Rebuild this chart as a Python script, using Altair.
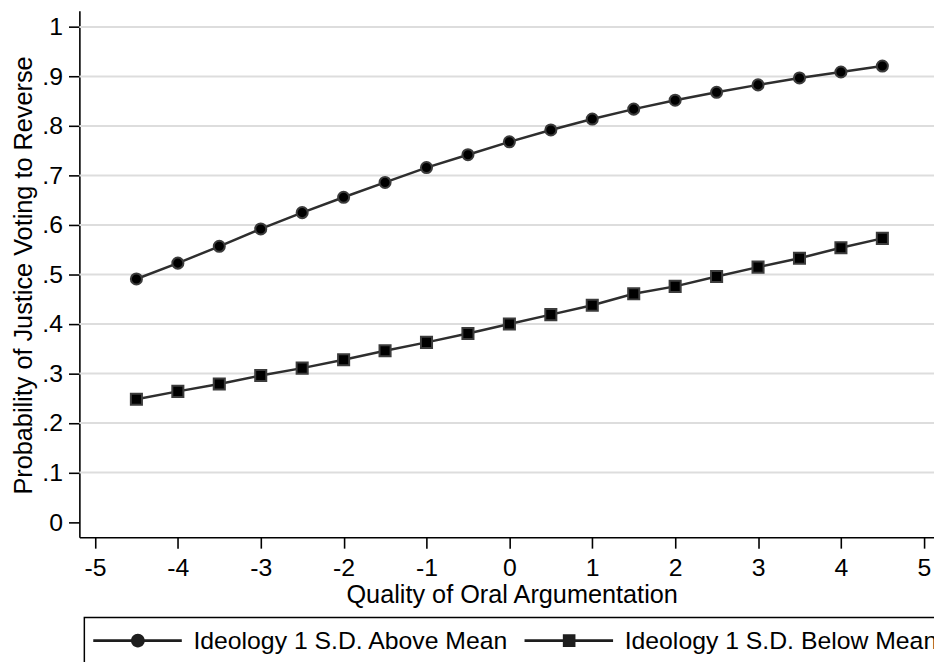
import json
import altair as alt
import pandas as pd

# ---------------- data ----------------
quality = [-4.5, -4.0, -3.5, -3.0, -2.5, -2.0, -1.5, -1.0, -0.5, 0.0,
           0.5, 1.0, 1.5, 2.0, 2.5, 3.0, 3.5, 4.0, 4.5]
prob_above = [0.491, 0.523, 0.557, 0.592, 0.625, 0.656, 0.686, 0.716, 0.742, 0.768,
              0.792, 0.814, 0.834, 0.852, 0.868, 0.883, 0.897, 0.909, 0.921]
prob_below = [0.248, 0.264, 0.279, 0.296, 0.311, 0.328, 0.346, 0.363, 0.381, 0.400,
              0.419, 0.438, 0.461, 0.476, 0.496, 0.515, 0.533, 0.554, 0.573]
series_names = ["Ideology 1 S.D. Above Mean", "Ideology 1 S.D. Below Mean"]

x_tick_values = [-5, -4, -3, -2, -1, 0, 1, 2, 3, 4, 5]
x_tick_labels = ["-5", "-4", "-3", "-2", "-1", "0", "1", "2", "3", "4", "5"]
y_tick_values = [0, 0.1, 0.2, 0.3, 0.4, 0.5, 0.6, 0.7, 0.8, 0.9, 1.0]
y_tick_labels = ["0", ".1", ".2", ".3", ".4", ".5", ".6", ".7", ".8", ".9", "1"]
y_grid_values = [0.1, 0.2, 0.3, 0.4, 0.5, 0.6, 0.7, 0.8, 0.9, 1.0]

x_title = "Quality of Oral Argumentation"
y_title = "Probability of Justice Voting to Reverse"

# ---------------- tables ----------------
df = pd.DataFrame({
    "quality": quality + quality,
    "prob": prob_above + prob_below,
    "series": [series_names[0]] * len(quality) + [series_names[1]] * len(quality),
})
grid_df = pd.DataFrame({"prob": y_grid_values})

FONT = "Liberation Sans"

x_scale = alt.Scale(domain=[-5.188, 5.123], nice=False, zero=False)
y_scale = alt.Scale(domain=[-0.0306, 1.0326], nice=False, zero=False)

x_axis = alt.Axis(
    values=x_tick_values,
    labelExpr=f"{json.dumps(x_tick_labels)}[round(datum.value + 5)]",
    title=x_title, grid=False, tickSize=11, labelPadding=8,
    labelOverlap=False, labelFlush=False,
    titleX=436, titleY=66, titleAlign="center", titleBaseline="alphabetic",
)
y_axis = alt.Axis(
    values=y_tick_values,
    labelExpr=f"{json.dumps(y_tick_labels)}[round(datum.value * 10)]",
    title=y_title, grid=False, tickSize=11, labelPadding=6,
    labelOverlap=False, labelFlush=False,
    titleX=-48.3, titleY=266.5, titleAngle=270, titleAlign="center",
    titleBaseline="alphabetic",
)


# legend symbols: line with marker in the middle (path units of 12 px)
def circle_path(cx, r):
    k = 0.5523 * r
    return (f"M{cx + r},0 C{cx + r},{k} {cx + k},{r} {cx},{r} "
            f"C{cx - k},{r} {cx - r},{k} {cx - r},0 "
            f"C{cx - r},{-k} {cx - k},{-r} {cx},{-r} "
            f"C{cx + k},{-r} {cx + r},{-k} {cx + r},0 Z ")


def bar_path(x1, x2, h):
    return f"M{x1},{-h} H{x2} V{h} H{x1} Z "


LX1, LX2, MC, LH = -1.167, 6.275, 2.583, 0.11
RC, RS = 0.58, 0.53
path_above = (bar_path(LX1, MC - RC + 0.05, LH) + circle_path(MC, RC)
              + bar_path(MC + RC - 0.05, LX2, LH))
path_below = (bar_path(LX1, MC - RS, LH)
              + f"M{MC - RS},{-RS} H{MC + RS} V{RS} H{MC - RS} Z "
              + bar_path(MC + RS, LX2, LH))

grid = alt.Chart(grid_df).mark_rule(color="#dddddd", strokeWidth=2).encode(
    y=alt.Y("prob:Q", scale=y_scale, axis=y_axis)
)

lines = alt.Chart(df).mark_line(color="#2e2e2e", strokeWidth=2.5).encode(
    x=alt.X("quality:Q", scale=x_scale, axis=x_axis),
    y=alt.Y("prob:Q", scale=y_scale, axis=y_axis),
    detail="series:N",
)

points = alt.Chart(df).mark_point(
    filled=True, fill="black", stroke="#3c3c3c", strokeWidth=2, size=125, opacity=1
).encode(
    x=alt.X("quality:Q", scale=x_scale, axis=x_axis),
    y=alt.Y("prob:Q", scale=y_scale, axis=y_axis),
    shape=alt.Shape("series:N", scale=alt.Scale(domain=series_names,
                                                range=["circle", "square"]),
                    legend=None),
)

legend_layer = alt.Chart(df).transform_filter("datum.prob > 5").mark_point(
    filled=True, fill="#1e1e1e", opacity=1
).encode(
    shape=alt.Shape(
        "series:N",
        scale=alt.Scale(domain=series_names, range=[path_above, path_below]),
        legend=alt.Legend(
            title=None, orient="none", legendX=5, legendY=612,
            direction="horizontal", columns=2, padding=10.5, columnPadding=15,
            symbolSize=576, symbolStrokeWidth=0, symbolFillColor="#1e1e1e",
            symbolOpacity=1, labelOffset=74.5,
            labelFontSize=25, labelFont=FONT, labelColor="black", labelLimit=0,
            strokeColor="black", fillColor="white",
        ),
    )
)

chart = alt.layer(grid, lines, points, legend_layer).resolve_scale(
    shape="independent"
).properties(
    width=862, height=531, autosize="none",
    padding={"left": 72, "top": 0, "right": 0, "bottom": 123},
    background="white",
).configure_view(stroke=None).configure_axis(
    domainColor="black", domainWidth=1.6, tickColor="black", tickWidth=1.6,
    labelFont=FONT, labelFontSize=25, labelColor="black",
    titleFont=FONT, titleFontSize=25.5, titleFontWeight="normal", titleColor="black",
).configure_legend(strokeWidth=1.5)

chart.save("out.html", embed_options={"renderer": "svg", "actions": False})
